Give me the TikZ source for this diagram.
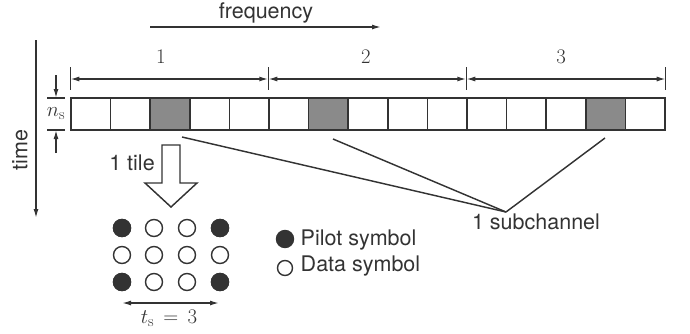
\documentclass[tikz,border=0pt]{standalone}
\usepackage{fontspec}
\setsansfont{TeX Gyre Heros}
\usetikzlibrary{arrows.meta}
\definecolor{ink}{HTML}{333333}
\definecolor{cellgray}{HTML}{8A8A8A}
\tikzset{
  cell/.style={draw=ink, fill=white, minimum width=39.6pt, minimum height=32pt, inner sep=0pt},
  pilotcell/.style={cell, fill=cellgray},
  arr/.style={-{Latex[length=9pt,width=5pt]}},
  dbl/.style={{Latex[length=9pt,width=5pt]}-{Latex[length=9pt,width=5pt]}},
  lbl/.style={font=\sffamily\fontsize{21.5}{25}\selectfont, text=ink, inner sep=0pt},
  mlbl/.style={font=\fontsize{22}{26}\selectfont, text=ink, inner sep=0pt},
  datadot/.style={circle, draw=ink, fill=white, minimum size=17pt, inner sep=0pt, line width=1.4pt},
  pilotdot/.style={datadot, fill=ink},
}
\begin{document}
\begin{tikzpicture}[x=1pt, y=-1pt, line width=1.45pt, draw=ink]
\useasboundingbox (0,0) rectangle (690,333);
% strip of cells
\foreach \i in {0,...,14} {
  \node[cell] (c\i) at ({71+39.6*\i+19.8},114) {};
}
\node[pilotcell] at (c2) {};
\node[pilotcell] at (c6) {};
\node[pilotcell] at (c13) {};
% subchannel brackets
\coordinate (b0) at (c0.west |- 0,79);
\coordinate (b1) at (c5.west |- 0,79);
\coordinate (b2) at (c10.west |- 0,79);
\coordinate (b3) at (c14.east |- 0,79);
\foreach \b in {b0,b1,b2,b3} {
  \draw ([yshift=12pt]\b) -- ([yshift=-11pt]\b);
}
\draw[dbl] (b0) -- (b1);
\draw[dbl] (b1) -- (b2);
\draw[dbl] (b2) -- (b3);
\node[mlbl] (l1) at (161,57) {$1$};
\node[mlbl] (l2) at (366,57) {$2$};
\node[mlbl] (l3) at (561,57) {$3$};
% frequency axis
\coordinate (f0) at (150,27);
\coordinate (f1) at (381,27);
\draw[arr] (f0) -- (f1);
\node[lbl] (freq) at (266,13) {frequency};
% time axis
\coordinate (t0) at (36,40);
\coordinate (t1) at (36,218);
\draw[arr] (t0) -- (t1);
\node[lbl, rotate=90] (time) at (20,150) {time};
% n_s
\coordinate (nt) at (56,98);
\coordinate (nb) at (56,130);
\draw (47,98) -- (65,98);
\draw (47,130) -- (65,130);
\draw[arr] ([yshift=23pt]nt) -- (nt);
\draw[arr] ([yshift=-23pt]nb) -- (nb);
\node[mlbl] (ns) at (56,114) {$n_{\mathrm{s}}$};
% tile block arrow
\draw[fill=white] (162,145) -- (180,145) -- (180,183) -- (197,183) -- (171,207) -- (145,183) -- (162,183) -- cycle;
\node[lbl] (tile) at (132,163) {1 tile};
% dots
\foreach \r/\y in {1/228,2/255,3/282} {
  \foreach \c/\x in {1/122,2/154,3/187,4/220} {
    \node[datadot] (d\r\c) at (\x,\y) {};
  }
}
\node[pilotdot] at (d11) {};
\node[pilotdot] at (d14) {};
\node[pilotdot] at (d31) {};
\node[pilotdot] at (d34) {};
% t_s
\coordinate (ts0) at (122,303);
\coordinate (ts1) at (219,303);
\draw[dbl] (ts0) -- (ts1);
\node[mlbl] (ts) at (169,318) {$t_{\mathrm{s}}\,=\,3$};
% legend
\node[pilotdot] (lp) at (285,239) {};
\node[datadot, minimum size=15pt] (ld) at (285,268) {};
\node[lbl, anchor=west] (pilot) at (300,240) {Pilot symbol};
\node[lbl, anchor=west] (data) at (300,266) {Data symbol};
% subchannel lines
\coordinate (conv) at (506,212);
\coordinate (s1) at (182,137);
\coordinate (s2) at (333,139);
\coordinate (s3) at (605,138);
\draw (s1) -- (conv);
\draw (s2) -- (conv);
\draw (s3) -- (conv);
\node[lbl] (sub) at (536,222) {1 subchannel};
\end{tikzpicture}
\end{document}
